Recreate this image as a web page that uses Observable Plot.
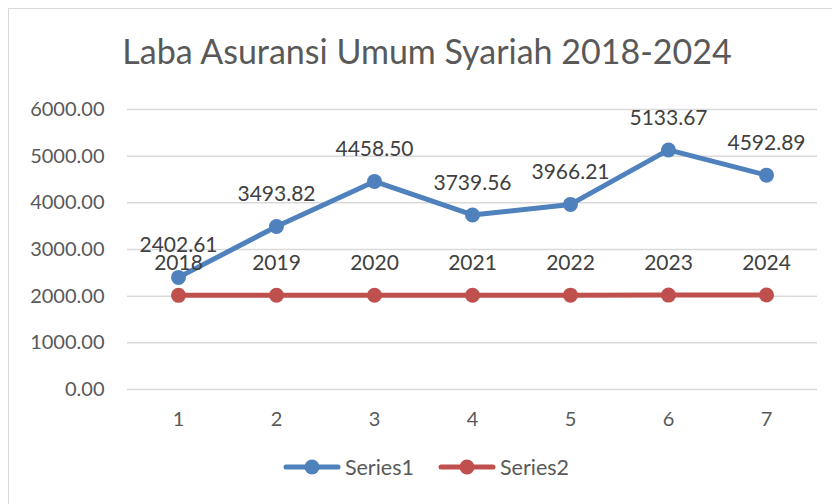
<!DOCTYPE html>
<html>
<head>
<meta charset="utf-8">
<script src="https://cdn.jsdelivr.net/npm/d3@7"></script>
<script src="https://cdn.jsdelivr.net/npm/@observablehq/plot@0.6"></script>
<style>
  html, body { margin: 0; padding: 0; background: #fff; }
  #wrap { position: relative; width: 832px; height: 504px; overflow: hidden; font-family: Lato, "Open Sans", sans-serif; }
  #border { position: absolute; left: 8px; top: 8px; width: 840px; height: 520px; border: 1.5px solid #d9d9d9; box-sizing: border-box; }
  #title { position: absolute; left: 0; width: 832px; top: 30px; padding-left: 22px; box-sizing: border-box; text-align: center; font-size: 34px; color: #595959; letter-spacing: 0px; }
  #chart { position: absolute; left: 0; top: 0; }
  #legend { position: absolute; left: 0; width: 832px; top: 454px; padding-left: 20px; box-sizing: border-box; display: flex; justify-content: center; gap: 24px; font-size: 21.5px; color: #595959; }
  .item { display: flex; align-items: center; gap: 4px; }
</style>
</head>
<body>
<div id="wrap">
  <div id="border"></div>
  <div id="chart"></div>
  <div id="title">Laba Asuransi Umum Syariah 2018-2024</div>
  <div id="legend"></div>
</div>
<script>
const categories = [1, 2, 3, 4, 5, 6, 7];
const series1 = [2402.61, 3493.82, 4458.50, 3739.56, 3966.21, 5133.67, 4592.89];
const series2 = [2018, 2019, 2020, 2021, 2022, 2023, 2024];
const yTicks = [0, 1000, 2000, 3000, 4000, 5000, 6000];
const seriesNames = ["Series1", "Series2"];
const colors = ["#4f81bd", "#c0504d"];

const rows = [];
categories.forEach((c, i) => {
  rows.push({x: c, y: series1[i], s: seriesNames[0], label: series1[i].toFixed(2)});
  rows.push({x: c, y: series2[i], s: seriesNames[1], label: String(series2[i])});
});

const chart = Plot.plot({
  width: 832,
  height: 504,
  marginTop: 109,
  marginBottom: 115,
  marginLeft: 127,
  marginRight: 15,
  style: {fontFamily: "Lato, 'Open Sans', sans-serif", fontSize: "20px", color: "#595959", background: "transparent"},
  x: {type: "point", domain: categories, padding: 0.5, label: null, tickSize: 0, tickPadding: 20},
  y: {domain: [0, 6000], label: null},
  color: {domain: seriesNames, range: colors},
  marks: [
    Plot.gridY(yTicks, {stroke: "#d9d9d9", strokeOpacity: 1, strokeWidth: 1.5}),
    Plot.axisY(yTicks, {tickFormat: d3.format(".2f"), tickSize: 0, tickPadding: 23, fontSize: 20, fill: "#595959"}),
    Plot.axisX({tickSize: 0, tickPadding: 22, fontSize: 20, fill: "#595959"}),
    Plot.line(rows, {x: "x", y: "y", z: "s", stroke: "s", strokeWidth: 5, strokeLinecap: "round", strokeLinejoin: "round"}),
    Plot.dot(rows, {x: "x", y: "y", fill: "s", r: 7.5, stroke: null}),
    Plot.text(rows, {x: "x", y: "y", text: "label", dy: -32, fontSize: 21, fill: "#404040"})
  ]
});
document.getElementById("chart").appendChild(chart);

const legend = document.getElementById("legend");
seriesNames.forEach((name, i) => {
  const item = document.createElement("div");
  item.className = "item";
  item.innerHTML = `<svg width="58" height="20"><line x1="3" y1="10" x2="55" y2="10" stroke="${colors[i]}" stroke-width="5" stroke-linecap="round"/><circle cx="29" cy="10" r="7.5" fill="${colors[i]}"/></svg><span>${name}</span>`;
  legend.appendChild(item);
});
</script>
</body>
</html>
